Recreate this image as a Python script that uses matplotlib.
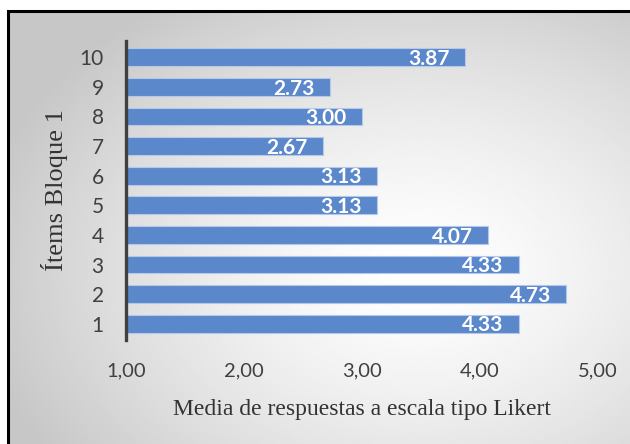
import numpy as np
import matplotlib
matplotlib.use('Agg')
import matplotlib.pyplot as plt
from matplotlib.patches import Rectangle

items  = ['1', '2', '3', '4', '5', '6', '7', '8', '9', '10']
medias = [4.33, 4.73, 4.33, 4.07, 3.13, 3.13, 2.67, 3.00, 2.73, 3.87]
xticks = [1.0, 2.0, 3.0, 4.0, 5.0]

fig = plt.figure(figsize=(6.3, 4.44), dpi=100)
fig.patch.set_facecolor('white')

# fondo con degradado radial
x0, y1 = 8/630, 1 - 11/444
bg = fig.add_axes([x0, 0, 1 - x0, y1], zorder=-2)
gx, gy = np.meshgrid(np.linspace(0, 1, 400), np.linspace(0, 1, 300))
r = np.sqrt(((gx - 0.66) / 0.72)**2 + ((gy - 0.6) / 0.75)**2)
shade = 1.0 - 0.22 * np.clip(r, 0, 1)**1.4
bg.imshow(shade, cmap='gray', vmin=0, vmax=1, aspect='auto',
          extent=[0, 1, 0, 1], origin='upper')
bg.axis('off')

fig.add_artist(Rectangle((x0, -0.01), 1.0, y1 + 0.01, transform=fig.transFigure,
                         fill=False, edgecolor='black', linewidth=2.2))

ax = fig.add_axes([126/630, 1 - 340/444, (598 - 126)/630, (340 - 41)/444])
ax.patch.set_alpha(0)

pos = np.arange(1, len(items) + 1)
ax.barh(pos, np.array(medias) - 1, left=1, height=0.6,
        color='#5b87cb', edgecolor='#b3c8ea', linewidth=0.8)

for p, v in zip(pos, medias):
    ax.text(v - 0.13, p - 0.06, f'{v:.2f}', ha='right', va='center',
            color='white', fontweight='bold', fontsize=15, family='Lato')

ax.set_xlim(1, 5)
ax.set_ylim(0.45, 10.55)
ax.set_xticks(xticks)
ax.set_xticklabels([f'{t:.2f}'.replace('.', ',') for t in xticks],
                   fontsize=14.5, family='Lato', color='#404040')
ax.set_yticks(pos)
ax.set_yticklabels(items, fontsize=15, family='Lato', color='#404040')
ax.tick_params(length=0)
ax.tick_params(axis='x', pad=16)
ax.tick_params(axis='y', pad=16)

for s in ['top', 'right', 'bottom']:
    ax.spines[s].set_visible(False)
ax.spines['left'].set_color('#404040')
ax.spines['left'].set_linewidth(2.4)

ax.set_xlabel('Media de respuestas a escala tipo Likert', family='Liberation Serif',
              fontsize=17, color='#333333', labelpad=14)
ax.set_ylabel('Ítems Bloque 1', family='Liberation Serif', fontsize=19,
              color='#333333', labelpad=8)

fig.savefig('out.png', dpi=100)
